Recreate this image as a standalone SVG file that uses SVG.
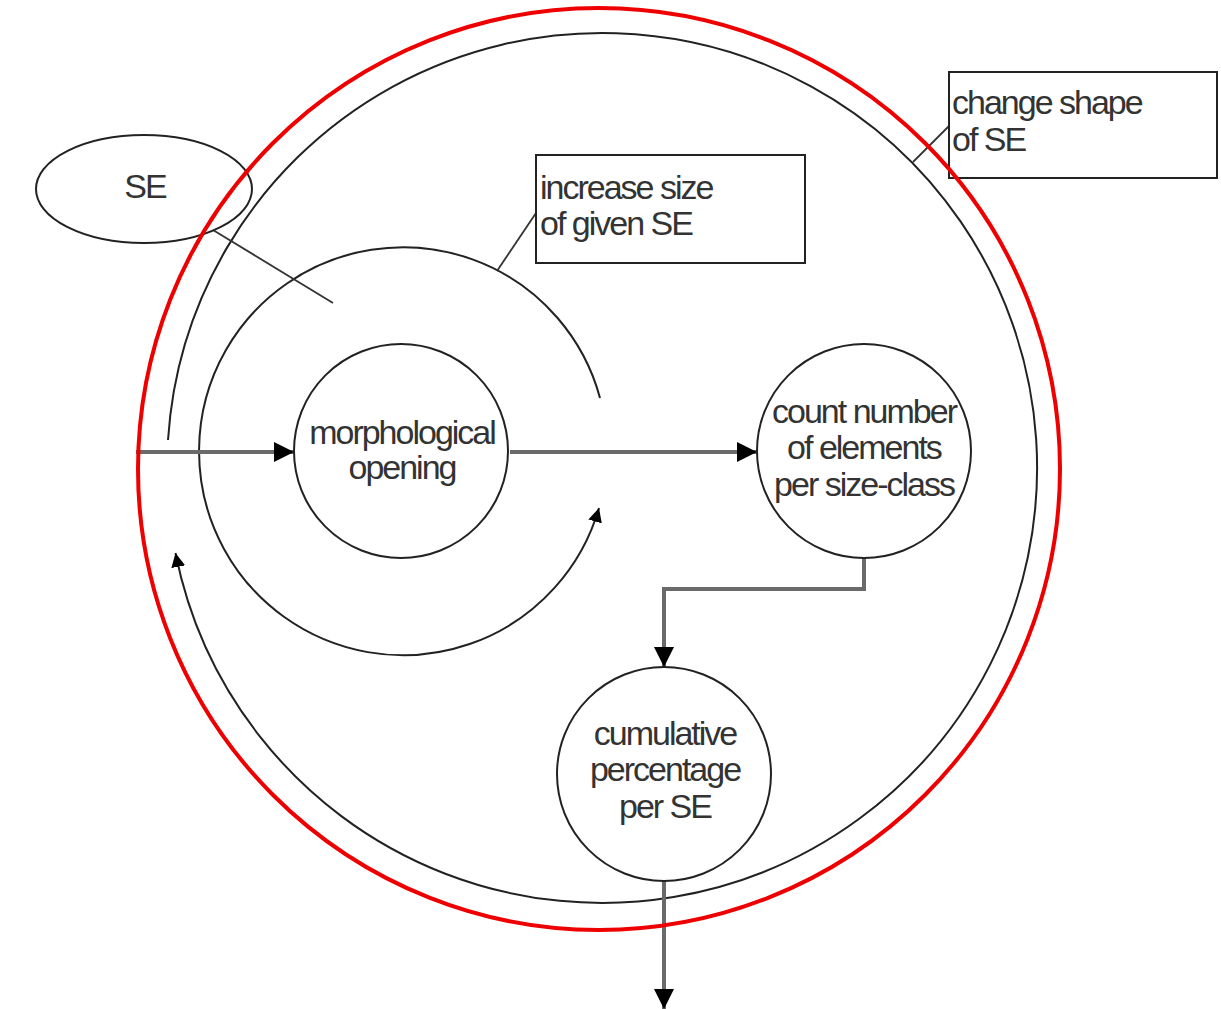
<svg xmlns="http://www.w3.org/2000/svg" width="1221" height="1009" viewBox="0 0 1221 1009">
<style>
.t{font-family:"Liberation Sans",Arial,sans-serif;font-size:34px;letter-spacing:-2px;fill:#333}
.c{text-anchor:middle}
.shape{fill:#fff;stroke:#222;stroke-width:2}
.arc{fill:none;stroke:#222;stroke-width:2}
.con{fill:none;stroke:#6a6a6a;stroke-width:4}
.note{fill:none;stroke:#333;stroke-width:1.8}
</style>
<defs>
<marker id="ah" viewBox="0 0 20 20" refX="20" refY="10" markerWidth="20" markerHeight="20" markerUnits="userSpaceOnUse" orient="auto">
<path d="M0,0 L20,10 L0,20 Z" fill="#000"/>
</marker>
<marker id="sah" viewBox="0 0 14 14" refX="14" refY="7" markerWidth="14" markerHeight="14" markerUnits="userSpaceOnUse" orient="auto">
<path d="M0,0 L14,7 L0,14 Z" fill="#000"/>
</marker>
</defs>
<rect width="1221" height="1009" fill="#fff"/>
<g id="connectors">
<path class="arc" d="M168,440 A435,435 0 1 1 175.5,553" marker-end="url(#sah)"/>
<path class="arc" d="M600,398 A204,204 0 1 0 599,508" marker-end="url(#sah)"/>
<line class="note" x1="213" y1="230" x2="333" y2="303"/>
<line class="note" x1="536" y1="213" x2="497" y2="271"/>
<line class="note" x1="950" y1="125" x2="913" y2="162"/>
<line class="con" x1="136" y1="452" x2="294" y2="452" marker-end="url(#ah)"/>
<line class="con" x1="510" y1="452" x2="757" y2="452" marker-end="url(#ah)"/>
<polyline class="con" points="864,558 864,589 664,589 664,667" marker-end="url(#ah)"/>
<line class="con" x1="664" y1="881" x2="664" y2="1009" marker-end="url(#ah)"/>
</g>
<g id="SE">
<ellipse class="shape" fill="none" style="fill:none" cx="144" cy="189" rx="108" ry="54"/>
<text class="t c" x="145" y="198">SE</text>
</g>
<g id="increase-size">
<rect class="shape" x="536" y="155" width="269" height="108"/>
<text class="t" x="540" y="199">increase size</text>
<text class="t" x="540" y="235">of given SE</text>
</g>
<g id="change-shape">
<rect class="shape" x="949" y="72" width="268" height="106"/>
<text class="t" x="952" y="114">change shape</text>
<text class="t" x="952" y="151">of SE</text>
</g>
<g id="morphological-opening">
<circle class="shape" cx="401" cy="451" r="107"/>
<text class="t c" x="402" y="444">morphological</text>
<text class="t c" x="402" y="479">opening</text>
</g>
<g id="count-number">
<circle class="shape" cx="864" cy="451" r="107"/>
<text class="t c" x="864" y="423">count number</text>
<text class="t c" x="864" y="459">of elements</text>
<text class="t c" x="864" y="496">per size-class</text>
</g>
<g id="cumulative-percentage">
<circle class="shape" cx="664" cy="774" r="107"/>
<text class="t c" x="665" y="745">cumulative</text>
<text class="t c" x="665" y="781">percentage</text>
<text class="t c" x="665" y="818">per SE</text>
</g>
<g id="highlight">
<circle cx="599" cy="469" r="461" fill="none" stroke="#ee0000" stroke-width="4"/>
</g>
</svg>
